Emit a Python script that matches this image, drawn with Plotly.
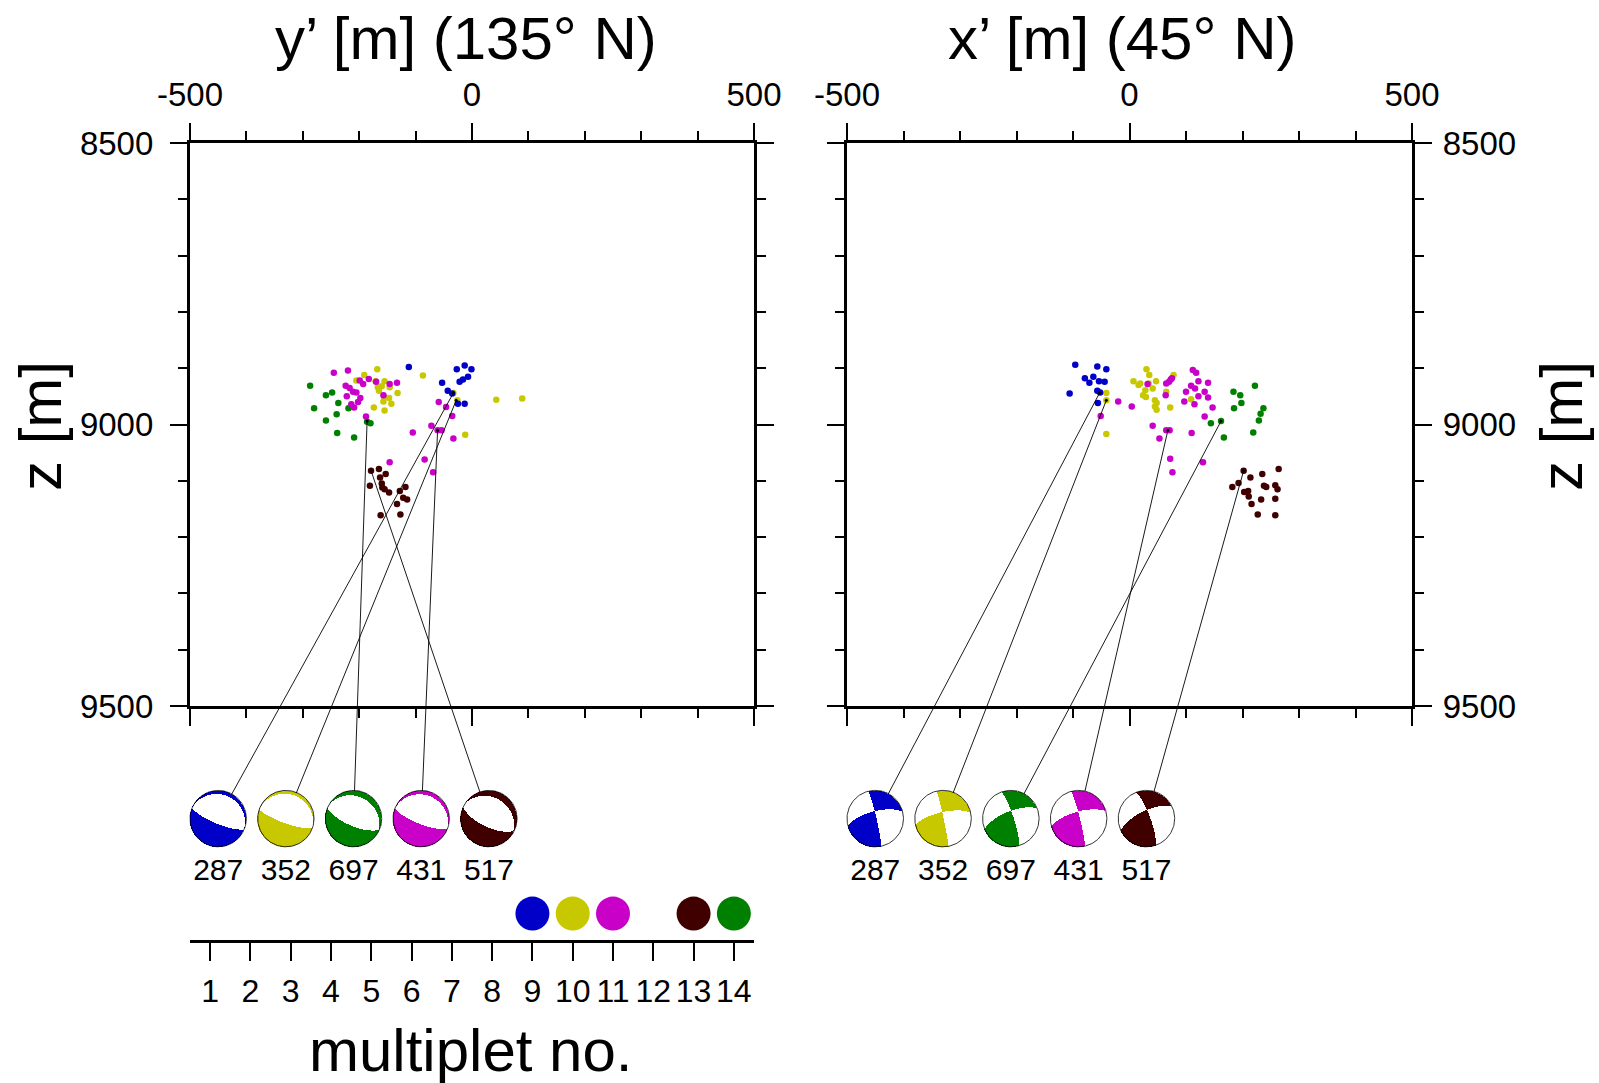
import numpy as np
import plotly.graph_objects as go

# ---------------- data ----------------
# multiplet bar (bottom left)
mult_ticks = list(range(1, 15))
mult_no = [9, 10, 11, 13, 14]
mult_colors = ["#0000c8", "#c8c800", "#c800c8", "#400000", "#008000"]

# beachball events (order of drawing)
ev_ids = ["287", "352", "697", "431", "517"]
ev_colors = ["#0000c8", "#c8c800", "#008000", "#c800c8", "#400000"]
ev_xp = [-53, -41, 162, 68, 202]        # x' [m] (45 deg N)
ev_yp = [-33, -28, -186, -61, -179]     # y' [m] (135 deg N)
ev_z = [8944, 8957, 8994, 9010, 9082]   # z [m]
ev_strike = [320, 318, 325, 320, 328]
ev_dip = [77, 78, 72, 76, 70]
ev_rake = [113, 110, 115, 112, 118]

# hypocentres, left panel (y', z)
L_green_y = [-287, -259, -248, -237, -280, -240, -259, -219, -239, -209, -186, -180]
L_green_z = [8931, 8948, 8943, 8962, 8971, 8982, 8993, 8971, 9015, 9023, 8995, 8998]
L_yellow_y = [-168, -191, -205, -171, -155, -167, -160, -165, -146, -132, -156, -147, -143, -157, -174, -155, -87, -33, -26, 43, 89, -12]
L_yellow_z = [8902, 8912, 8922, 8923, 8923, 8934, 8932, 8940, 8934, 8944, 8951, 8953, 8963, 8959, 8970, 8975, 8913, 8944, 8957, 8956, 8954, 9018]
L_magenta_y = [-245, -220, -224, -217, -211, -205, -199, -193, -183, -170, -146, -133, -157, -222, -198, -202, -214, -209, -188, -59, -46, -35, -72, -61, -54, -105, -33, -146, -84, -69]
L_magenta_z = [8908, 8904, 8931, 8935, 8942, 8943, 8922, 8928, 8919, 8924, 8928, 8926, 8948, 8950, 8953, 8960, 8964, 8970, 8986, 8960, 8969, 8985, 9002, 9010, 9010, 9014, 9025, 9067, 9062, 9085]
L_blue_y = [-112, -27, -13, -1, -7, -16, -22, -53, -43, -35, -25, -13]
L_blue_z = [8898, 8902, 8895, 8902, 8915, 8920, 8924, 8926, 8940, 8945, 8963, 8963]
L_brown_y = [-179, -165, -163, -153, -160, -181, -159, -155, -147, -128, -118, -122, -115, -133, -162, -127]
L_brown_z = [9082, 9079, 9094, 9088, 9105, 9109, 9112, 9115, 9121, 9118, 9111, 9130, 9133, 9141, 9161, 9160]

# hypocentres, right panel (x', z)
R_green_x = [184, 196, 198, 185, 222, 237, 232, 229, 144, 162, 167, 219]
R_green_z = [8942, 8948, 8962, 8971, 8931, 8971, 8981, 8993, 8998, 8994, 9023, 9014]
R_yellow_x = [-41, -41, -41, 30, 35, 7, 16, 19, 47, 34, 41, 28, 24, 29, 45, 48, 45, 48, 65, 72, 78, 109]
R_yellow_z = [8944, 8957, 9017, 8902, 8912, 8923, 8930, 8927, 8923, 8927, 8936, 8939, 8948, 8951, 8957, 8962, 8968, 8974, 8942, 8970, 8912, 8955]
R_magenta_x = [-20, -51, 4, 32, 65, 70, 73, 75, 64, 112, 118, 122, 139, 109, 116, 100, 133, 122, 139, 97, 115, 147, 133, 41, 65, 71, 53, 110, 72, 76, 130]
R_magenta_z = [8959, 8985, 8968, 8928, 8927, 8924, 8920, 8918, 8948, 8903, 8908, 8923, 8926, 8931, 8936, 8942, 8942, 8950, 8952, 8959, 8964, 8970, 8986, 9002, 9010, 9010, 9025, 9015, 9061, 9085, 9067]
R_blue_x = [-96, -57, -41, -79, -64, -71, -54, -44, -106, -57, -52, -56]
R_blue_z = [8894, 8897, 8902, 8918, 8915, 8926, 8923, 8924, 8945, 8940, 8943, 8962]
R_brown_x = [202, 214, 235, 264, 182, 193, 203, 210, 211, 216, 233, 238, 242, 258, 262, 258, 227, 258]
R_brown_z = [9082, 9094, 9088, 9079, 9111, 9104, 9120, 9118, 9128, 9141, 9133, 9109, 9111, 9108, 9115, 9132, 9160, 9161]

# ---------------- layout constants ----------------
W, H = 1599, 1083
LX0, LX1, RX0, RX1 = 190, 754, 847, 1412
PY0, PY1 = 143, 706
BALL_Z, BALL_X0, BALL_DX, BALL_R, LABEL_Z = 9700, -450, 120, 50, 9795
FONT = "Liberation Sans, Arial, Helvetica, sans-serif"
BLUE, YELLOW, MAGENTA, BROWN, GREEN = mult_colors

sy = (PY1 - PY0) / 1000.0


def overlay_ranges(x0px, x1px):
    sx = (x1px - x0px) / 1000.0
    xr = [-500 - x0px / sx, -500 + (W - x0px) / sx]
    yr = [8500 + (H - PY0) / sy, 8500 - PY0 / sy]
    return sx, xr, yr


def az(a):
    a = np.radians(a)
    return np.array([np.sin(a), np.cos(a), 0.0])


UP = np.array([0.0, 0.0, 1.0])


def mech_vectors(strike, dip, rake):
    f, d, l = np.radians([strike, dip, rake])
    s = np.array([np.sin(f), np.cos(f), 0.0])
    dd = np.array([np.cos(d) * np.sin(f + np.pi / 2), np.cos(d) * np.cos(f + np.pi / 2), -np.sin(d)])
    n = np.array([np.sin(d) * np.sin(f + np.pi / 2), np.sin(d) * np.cos(f + np.pi / 2), np.cos(d)])
    slip = np.cos(l) * s - np.sin(l) * dd
    return n, slip


def ball_grid(sx, h, nview):
    centers = [BALL_X0 + BALL_DX * i for i in range(len(ev_ids))]
    Ry = BALL_R * sx / sy
    xs = np.arange(centers[0] - BALL_R * 1.04, centers[-1] + BALL_R * 1.04, 1.0 / sx)
    zs = np.arange(BALL_Z - Ry * 1.04, BALL_Z + Ry * 1.04, 1.0 / sy)
    X, Z = np.meshgrid(xs, zs)
    out = np.full(X.shape, np.nan)
    for i, cx in enumerate(centers):
        u = (X - cx) / BALL_R
        v = -(Z - BALL_Z) / Ry
        r = np.hypot(u, v)
        inside = r <= 1.0
        th = 2 * np.arcsin(np.clip(r / np.sqrt(2), 0, 1))
        rr = np.where(r > 0, r, 1.0)
        d = (np.cos(th)[..., None] * nview
             + np.sin(th)[..., None] * ((u / rr)[..., None] * h + (v / rr)[..., None] * UP))
        nf, sl = mech_vectors(ev_strike[i], ev_dip[i], ev_rake[i])
        pol = (d @ nf) * (d @ sl)
        val = np.where(pol > 0, i + 1, 0)
        out = np.where(inside, val, out)
    return centers, Ry, xs, zs, out


fig = go.Figure()

# panel hypocentres
for xs_, zs_, col in [(L_green_y, L_green_z, GREEN), (L_yellow_y, L_yellow_z, YELLOW),
                      (L_magenta_y, L_magenta_z, MAGENTA), (L_blue_y, L_blue_z, BLUE),
                      (L_brown_y, L_brown_z, BROWN)]:
    fig.add_trace(go.Scatter(x=xs_, y=zs_, mode="markers", xaxis="x", yaxis="y",
                             marker=dict(size=6.5, color=col, line=dict(width=0)),
                             showlegend=False, hoverinfo="skip"))
for xs_, zs_, col in [(R_green_x, R_green_z, GREEN), (R_yellow_x, R_yellow_z, YELLOW),
                      (R_magenta_x, R_magenta_z, MAGENTA), (R_blue_x, R_blue_z, BLUE),
                      (R_brown_x, R_brown_z, BROWN)]:
    fig.add_trace(go.Scatter(x=xs_, y=zs_, mode="markers", xaxis="x2", yaxis="y2",
                             marker=dict(size=6.5, color=col, line=dict(width=0)),
                             showlegend=False, hoverinfo="skip"))

# overlays
sxL, xrL, yrL = overlay_ranges(LX0, LX1)
sxR, xrR, yrR = overlay_ranges(RX0, RX1)

views = [
    # (event horizontal coords, line axes, ball axes, sx, horizontal dir, hemisphere dir)
    (ev_yp, ("x3", "y3"), ("x5", "y5"), sxL, az(135), az(225)),
    (ev_xp, ("x4", "y4"), ("x6", "y6"), sxR, az(45), az(315)),
]

cscale = [[0.0, "white"], [0.1, "white"]]
for k, c in enumerate(ev_colors):
    cscale += [[0.1 + 0.2 * k, c], [min(0.1 + 0.2 * (k + 1), 1.0), c]]

for evh, (lx, ly), (bx, by), sx, hdir, ndir in views:
    centers, Ry, gx, gz, gval = ball_grid(sx, hdir, ndir)
    for i in range(len(ev_ids)):
        fig.add_trace(go.Scatter(x=[evh[i], centers[i]], y=[ev_z[i], BALL_Z], mode="lines",
                                 xaxis=lx, yaxis=ly, line=dict(color="black", width=0.9),
                                 showlegend=False, hoverinfo="skip"))
    fig.add_trace(go.Scatter(x=evh, y=ev_z, mode="markers", xaxis=lx, yaxis=ly,
                             marker=dict(size=3, color="black"), showlegend=False, hoverinfo="skip"))
    fig.add_trace(go.Heatmap(x=gx, y=gz, z=gval, xaxis=bx, yaxis=by, zmin=0, zmax=5,
                             colorscale=cscale, showscale=False, hoverinfo="skip", zsmooth=False))
    t = np.linspace(0, 2 * np.pi, 181)
    for i, cx in enumerate(centers):
        fig.add_trace(go.Scatter(x=cx + BALL_R * np.cos(t), y=BALL_Z + Ry * np.sin(t), mode="lines",
                                 xaxis=bx, yaxis=by, line=dict(color="black", width=0.8),
                                 showlegend=False, hoverinfo="skip"))
    fig.add_trace(go.Scatter(x=centers, y=[LABEL_Z] * len(centers), text=ev_ids, mode="text",
                             textposition="middle center", xaxis=bx, yaxis=by,
                             textfont=dict(family=FONT, size=30, color="black"),
                             showlegend=False, hoverinfo="skip"))

# multiplet bar
fig.add_trace(go.Scatter(x=mult_no, y=[0.44] * len(mult_no), mode="markers", xaxis="x7", yaxis="y7",
                         marker=dict(size=34, color=mult_colors, line=dict(width=0)),
                         showlegend=False, hoverinfo="skip", cliponaxis=False))

frame = dict(showline=True, linewidth=3.2, linecolor="black", mirror="allticks",
             ticks="outside", ticklen=17, tickwidth=1.5, tickcolor="black",
             showgrid=False, zeroline=False, fixedrange=True, automargin=False,
             tickfont=dict(family=FONT, size=33, color="black"),
             minor=dict(dtick=100, ticks="outside", ticklen=9, tickwidth=1.5,
                        tickcolor="black", showgrid=False))

xax = dict(range=[-500, 500], tickvals=[-500, 0, 500], ticktext=["-500", "0", "500"], side="top", **frame)
yax = dict(range=[9500, 8500], tickvals=[8500, 9000, 9500], ticktext=["8500", "9000", "9500"], **frame)

hidden = dict(visible=False, fixedrange=True, automargin=False)

fig.update_layout(
    width=W, height=H, margin=dict(l=0, r=0, t=0, b=0, pad=0, autoexpand=False),
    paper_bgcolor="white", plot_bgcolor="rgba(0,0,0,0)",
    hovermode=False, showlegend=False,
    xaxis=dict(domain=[LX0 / W, LX1 / W], anchor="y", ticklabelstandoff=4, **xax),
    yaxis=dict(domain=[1 - PY1 / H, 1 - PY0 / H], anchor="x", side="left", ticklabelstandoff=10, **yax),
    xaxis2=dict(domain=[RX0 / W, RX1 / W], anchor="y2", ticklabelstandoff=4, **xax),
    yaxis2=dict(domain=[1 - PY1 / H, 1 - PY0 / H], anchor="x2", side="right", ticklabelstandoff=4, **yax),
    xaxis3=dict(domain=[0, 1], anchor="y3", range=xrL, **hidden),
    yaxis3=dict(domain=[0, 1], anchor="x3", range=yrL, **hidden),
    xaxis4=dict(domain=[0, 1], anchor="y4", range=xrR, **hidden),
    yaxis4=dict(domain=[0, 1], anchor="x4", range=yrR, **hidden),
    xaxis5=dict(domain=[0, 1], anchor="y5", range=xrL, **hidden),
    yaxis5=dict(domain=[0, 1], anchor="x5", range=yrL, **hidden),
    xaxis6=dict(domain=[0, 1], anchor="y6", range=xrR, **hidden),
    yaxis6=dict(domain=[0, 1], anchor="x6", range=yrR, **hidden),
    xaxis7=dict(domain=[LX0 / W, LX1 / W], anchor="y7", range=[0.5, 14.5], tickvals=mult_ticks,
                ticks="outside", ticklen=18, tickwidth=1.5, tickcolor="black",
                showline=True, linewidth=3.2, linecolor="black", showgrid=False, zeroline=False,
                fixedrange=True, automargin=False, ticklabelstandoff=2,
                tickfont=dict(family=FONT, size=32, color="black")),
    yaxis7=dict(domain=[1 - 940 / H, 1 - 880 / H], anchor="x7", range=[0, 1], **hidden),
)

ann_font = dict(family=FONT, size=60, color="black")
fig.add_annotation(text="y’ [m] (135° N)", x=466 / W, y=1 - 38 / H, xref="paper", yref="paper",
                   showarrow=False, xanchor="center", yanchor="middle", font=ann_font)
fig.add_annotation(text="x’ [m] (45° N)", x=1122 / W, y=1 - 38 / H, xref="paper", yref="paper",
                   showarrow=False, xanchor="center", yanchor="middle", font=ann_font)
fig.add_annotation(text="z [m]", x=40 / W, y=1 - 426 / H, xref="paper", yref="paper", textangle=-90,
                   showarrow=False, xanchor="center", yanchor="middle", font=ann_font)
fig.add_annotation(text="z [m]", x=1561 / W, y=1 - 426 / H, xref="paper", yref="paper", textangle=-90,
                   showarrow=False, xanchor="center", yanchor="middle", font=ann_font)
fig.add_annotation(text="multiplet no.", x=471 / W, y=1 - 1050 / H, xref="paper", yref="paper",
                   showarrow=False, xanchor="center", yanchor="middle", font=ann_font)

fig.write_html("out.html")
